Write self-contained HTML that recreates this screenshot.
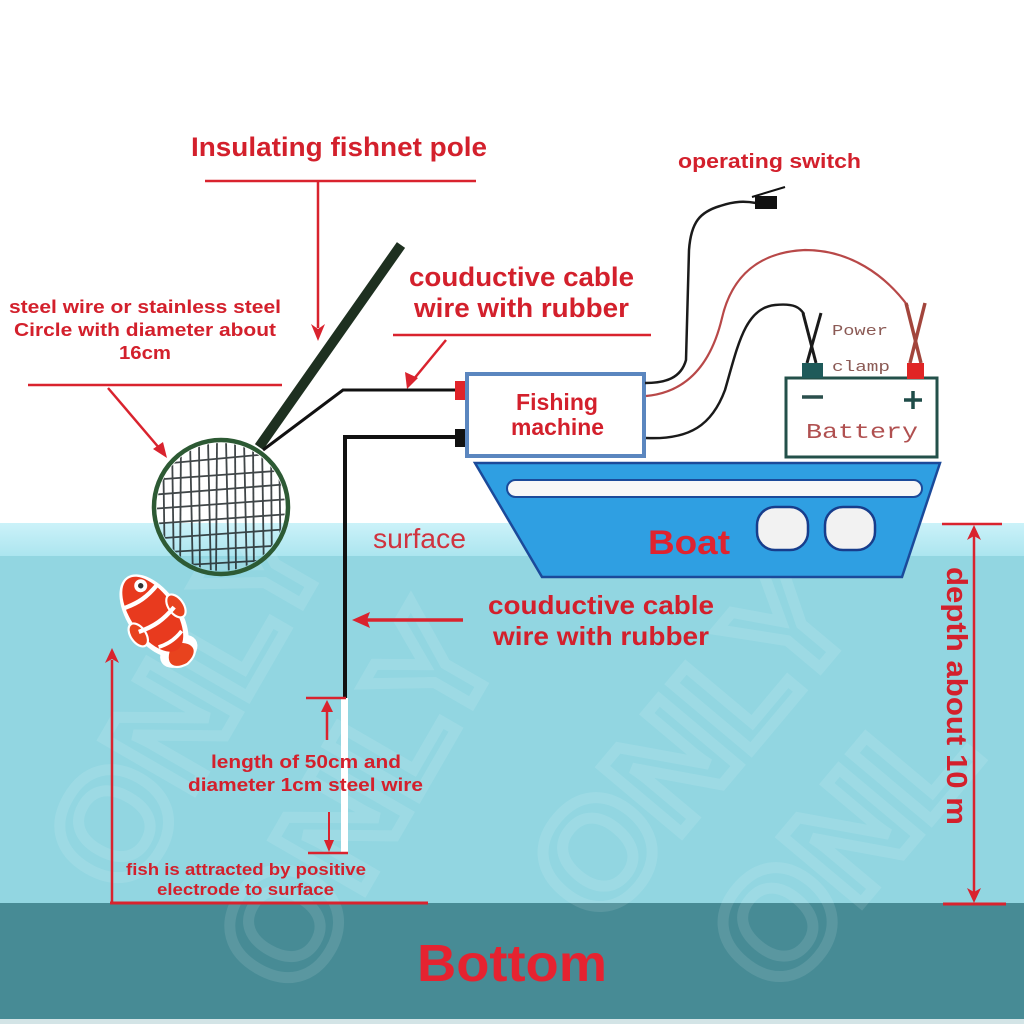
<!DOCTYPE html>
<html><head><meta charset="utf-8"><style>
html,body{margin:0;padding:0;background:#fff;width:1024px;height:1024px;overflow:hidden;}
svg{display:block;position:absolute;left:0;top:0;}
.b{font-family:"Liberation Sans",Arial,sans-serif;font-weight:bold;fill:#d3202c;}
</style></head><body>
<svg width="1024" height="1024" viewBox="0 0 1024 1024" xmlns="http://www.w3.org/2000/svg">
<defs>
<linearGradient id="surf" x1="0" y1="0" x2="0" y2="1">
<stop offset="0" stop-color="#cbf2f9"/><stop offset="1" stop-color="#ace5ef"/>
</linearGradient>
<clipPath id="netclip"><circle cx="221" cy="507" r="64"/></clipPath>
</defs>
<rect width="1024" height="1024" fill="#fff"/>
<!-- water -->
<rect x="0" y="523" width="1024" height="33" fill="url(#surf)"/>
<rect x="0" y="556" width="1024" height="347" fill="#92d6e1"/>
<rect x="0" y="903" width="1024" height="116" fill="#478b95"/>
<rect x="0" y="1019" width="1024" height="5" fill="#d3e4e6"/>
<!-- watermark -->
<g font-family="Liberation Sans,sans-serif" font-weight="bold" font-size="150" fill="none" stroke="#ffffff" stroke-width="11" opacity="0.1">
<text transform="translate(300,1000) rotate(-60)">ONLY</text>
<text transform="translate(600,930) rotate(-50)">ONLY</text>
<text transform="translate(130,900) rotate(-60)">ONLY</text>
<text transform="translate(780,1000) rotate(-50)">ONL</text>
</g>

<!-- Insulating fishnet pole label -->
<text class="b" x="191" y="156" font-size="27" textLength="296" lengthAdjust="spacingAndGlyphs">Insulating fishnet pole</text>
<line x1="205" y1="181" x2="476" y2="181" stroke="#d9232e" stroke-width="2.5"/>
<line x1="318" y1="181" x2="318" y2="328" stroke="#d9232e" stroke-width="2.5"/>
<path d="M311,324 L318,341 L325,324 L318,329 Z" fill="#d9232e"/>

<!-- operating switch -->
<text class="b" x="678" y="168" font-size="20" textLength="183" lengthAdjust="spacingAndGlyphs">operating switch</text>

<!-- couductive cable 1 -->
<text class="b" x="409" y="286" font-size="27" textLength="225" lengthAdjust="spacingAndGlyphs">couductive cable</text>
<text class="b" x="414" y="317" font-size="27" textLength="215" lengthAdjust="spacingAndGlyphs">wire with rubber</text>
<line x1="393" y1="335" x2="651" y2="335" stroke="#d9232e" stroke-width="2.5"/>
<line x1="446" y1="340" x2="413" y2="380" stroke="#d9232e" stroke-width="2.5"/>
<path d="M405,372 L407,389 L418,378 Z" fill="#d9232e"/>

<!-- steel wire label -->
<text class="b" x="9" y="313" font-size="18" textLength="272" lengthAdjust="spacingAndGlyphs">steel wire or stainless steel</text>
<text class="b" x="14" y="336" font-size="18" textLength="262" lengthAdjust="spacingAndGlyphs">Circle with diameter about</text>
<text class="b" x="119" y="359" font-size="18" textLength="52" lengthAdjust="spacingAndGlyphs">16cm</text>
<line x1="28" y1="385" x2="282" y2="385" stroke="#d9232e" stroke-width="2.5"/>
<line x1="108" y1="388" x2="160" y2="449" stroke="#d9232e" stroke-width="2.5"/>
<path d="M153,449 L167,458 L163,442 Z" fill="#d9232e"/>

<!-- pole -->
<line x1="401" y1="245" x2="259" y2="447" stroke="#1e3020" stroke-width="10"/>
<!-- net -->
<g clip-path="url(#netclip)" stroke="#1f2628" stroke-width="1.8" opacity="0.85">
<line x1="163" y1="440" x2="165" y2="580"/><line x1="172" y1="440" x2="174" y2="580"/>
<line x1="181" y1="440" x2="180" y2="580"/><line x1="190" y1="440" x2="193" y2="580"/>
<line x1="199" y1="440" x2="200" y2="580"/><line x1="208" y1="440" x2="211" y2="580"/>
<line x1="217" y1="440" x2="216" y2="580"/><line x1="226" y1="440" x2="229" y2="580"/>
<line x1="235" y1="440" x2="236" y2="580"/><line x1="244" y1="440" x2="247" y2="580"/>
<line x1="253" y1="440" x2="254" y2="580"/><line x1="262" y1="440" x2="264" y2="580"/>
<line x1="271" y1="440" x2="272" y2="580"/><line x1="279" y1="440" x2="281" y2="580"/>
<line x1="150" y1="465" x2="290" y2="452"/><line x1="150" y1="480" x2="290" y2="470"/>
<line x1="150" y1="495" x2="290" y2="484"/><line x1="150" y1="509" x2="290" y2="499"/>
<line x1="150" y1="524" x2="290" y2="514"/><line x1="150" y1="539" x2="290" y2="529"/>
<line x1="150" y1="553" x2="290" y2="545"/><line x1="150" y1="567" x2="290" y2="559"/>
</g>
<circle cx="221" cy="507" r="67" fill="none" stroke="#2d5a34" stroke-width="4.5"/>

<!-- wires to machine -->
<polyline points="263,450 343,390 457,390" fill="none" stroke="#111" stroke-width="3"/>
<polyline points="457,437 345,437 345,698" fill="none" stroke="#111" stroke-width="4"/>
<rect x="341" y="698" width="7" height="155" fill="#ffffff"/>
<rect x="455" y="381" width="15" height="19" fill="#e0242a"/>
<rect x="455" y="429" width="13" height="18" fill="#111"/>

<!-- fishing machine -->
<rect x="467" y="374" width="177" height="82" fill="#fff" stroke="#5b86bf" stroke-width="4"/>
<text class="b" x="516" y="410" font-size="23" textLength="82" lengthAdjust="spacingAndGlyphs">Fishing</text>
<text class="b" x="511" y="435" font-size="23" textLength="93" lengthAdjust="spacingAndGlyphs">machine</text>

<!-- wires to switch and battery -->
<path d="M645,383 C666,383 681,378 686,360 L689,250 C691,222 700,212 720,206 C735,201 745,201 756,203" fill="none" stroke="#1a1a1a" stroke-width="2.5"/>
<path d="M646,396 C690,392 712,360 722,318 C732,275 760,252 805,250 C850,250 885,275 908,306" fill="none" stroke="#b84848" stroke-width="2.2"/>
<path d="M646,438 C690,440 712,425 725,390 C738,345 745,308 775,305 C795,303 800,308 804,314" fill="none" stroke="#1a1a1a" stroke-width="2.5"/>
<rect x="755" y="196" width="22" height="13" fill="#111"/>
<line x1="752" y1="197" x2="785" y2="187" stroke="#111" stroke-width="2"/>

<!-- battery -->
<rect x="786" y="378" width="151" height="79" fill="#fff" stroke="#23504a" stroke-width="3"/>
<line x1="802" y1="397" x2="823" y2="397" stroke="#2a4f4c" stroke-width="3.5"/>
<line x1="904" y1="400" x2="922" y2="400" stroke="#1f4c48" stroke-width="3.5"/>
<line x1="913" y1="391" x2="913" y2="409" stroke="#1f4c48" stroke-width="3.5"/>
<text x="806" y="438" font-family="Liberation Mono,monospace" font-size="21" fill="#b05050" textLength="112" lengthAdjust="spacingAndGlyphs">Battery</text>
<text x="832" y="335" font-family="Liberation Mono,monospace" font-size="15" fill="#8b5a55" textLength="56" lengthAdjust="spacingAndGlyphs">Power</text>
<text x="832" y="371" font-family="Liberation Mono,monospace" font-size="15" fill="#8b5a55" textLength="58" lengthAdjust="spacingAndGlyphs">clamp</text>
<!-- clamps -->
<line x1="803" y1="313" x2="816" y2="363" stroke="#1a1a1a" stroke-width="3"/>
<line x1="821" y1="313" x2="807" y2="363" stroke="#1a1a1a" stroke-width="3"/>
<rect x="802" y="363" width="21" height="15" fill="#1e5a5a"/>
<line x1="906" y1="303" x2="921" y2="363" stroke="#a2453c" stroke-width="3.5"/>
<line x1="925" y1="303" x2="910" y2="363" stroke="#a2453c" stroke-width="3.5"/>
<rect x="907" y="363" width="17" height="16" fill="#e02525"/>

<!-- boat -->
<polygon points="475,463 940,463 902,577 542,577" fill="#2f9fe2" stroke="#1b4a9a" stroke-width="2.5"/>
<rect x="507" y="480" width="415" height="17" rx="8.5" fill="#f7f7f7" stroke="#1b4a9a" stroke-width="2"/>
<rect x="757" y="507" width="51" height="43" rx="18" fill="#f2f2f2" stroke="#173d8c" stroke-width="2.5"/>
<rect x="825" y="507" width="50" height="43" rx="18" fill="#f2f2f2" stroke="#173d8c" stroke-width="2.5"/>
<text x="648" y="554" font-family="Liberation Sans,sans-serif" font-weight="bold" font-size="34" fill="#e0232f" textLength="82" lengthAdjust="spacingAndGlyphs">Boat</text>

<!-- surface -->
<text x="373" y="548" font-family="Liberation Sans,sans-serif" font-size="28" fill="#d0333f" textLength="93" lengthAdjust="spacingAndGlyphs">surface</text>

<!-- couductive cable 2 -->
<text class="b" x="488" y="614" font-size="26" textLength="226" lengthAdjust="spacingAndGlyphs">couductive cable</text>
<text class="b" x="493" y="645" font-size="26" textLength="216" lengthAdjust="spacingAndGlyphs">wire with rubber</text>
<line x1="463" y1="620" x2="366" y2="620" stroke="#d9232e" stroke-width="3.5"/>
<path d="M352,620 L370,612 L367,620 L370,628 Z" fill="#d9232e"/>

<!-- steel wire length markers -->
<line x1="306" y1="698" x2="346" y2="698" stroke="#d9232e" stroke-width="2.5"/>
<line x1="327" y1="740" x2="327" y2="710" stroke="#d9232e" stroke-width="2.5"/>
<path d="M321,712 L327,700 L333,712 Z" fill="#d9232e"/>
<line x1="308" y1="853" x2="348" y2="853" stroke="#d9232e" stroke-width="2.5"/>
<line x1="329" y1="812" x2="329" y2="842" stroke="#d9232e" stroke-width="2"/>
<path d="M324,840 L329,852 L334,840 Z" fill="#d9232e"/>
<text class="b" x="211" y="768" font-size="18" textLength="190" lengthAdjust="spacingAndGlyphs">length of 50cm and</text>
<text class="b" x="188" y="791" font-size="18" textLength="235" lengthAdjust="spacingAndGlyphs">diameter 1cm steel wire</text>

<!-- fish attracted arrow -->
<line x1="112" y1="903" x2="112" y2="660" stroke="#d9232e" stroke-width="2.5"/>
<path d="M105,663 L112,648 L119,663 L112,659 Z" fill="#d9232e"/>
<line x1="110" y1="903" x2="428" y2="903" stroke="#d9232e" stroke-width="3"/>
<text class="b" x="126" y="875" font-size="17" textLength="240" lengthAdjust="spacingAndGlyphs">fish is attracted by positive</text>
<text class="b" x="157" y="895" font-size="17" textLength="177" lengthAdjust="spacingAndGlyphs">electrode to surface</text>

<!-- depth -->
<line x1="942" y1="524" x2="1002" y2="524" stroke="#d9232e" stroke-width="2.5"/>
<line x1="974" y1="530" x2="974" y2="897" stroke="#d9232e" stroke-width="2.5"/>
<path d="M967,540 L974,525 L981,540 L974,536 Z" fill="#d9232e"/>
<path d="M967,888 L974,903 L981,888 L974,892 Z" fill="#d9232e"/>
<line x1="943" y1="904" x2="1006" y2="904" stroke="#d9232e" stroke-width="3"/>
<text class="b" transform="translate(947,567) rotate(90)" x="0" y="0" font-size="29" textLength="258" lengthAdjust="spacingAndGlyphs">depth about 10 m</text>

<!-- Bottom -->
<text x="417" y="981" font-family="Liberation Sans,sans-serif" font-weight="bold" font-size="52" fill="#e52330" textLength="190" lengthAdjust="spacingAndGlyphs">Bottom</text>

<!-- fish -->
<g transform="translate(154,616) rotate(55) scale(1.08)">
<ellipse cx="0" cy="0" rx="44" ry="24" fill="#fff"/>
<ellipse cx="40" cy="0" rx="13" ry="19" fill="#fff"/>
<path d="M30,0 C38,-18 52,-18 54,0 C52,18 38,18 30,0 Z" fill="#e8431e" stroke="#fff" stroke-width="2"/>
<ellipse cx="-2" cy="0" rx="40" ry="20" fill="#e83a1e"/>
<ellipse cx="4" cy="-22" rx="12" ry="7" fill="#e8431e" stroke="#fff" stroke-width="2"/>
<ellipse cx="6" cy="22" rx="12" ry="7" fill="#e8431e" stroke="#fff" stroke-width="2"/>
<path d="M-22,-19 C-18,-5 -18,5 -22,19" fill="none" stroke="#fff" stroke-width="4"/>
<path d="M4,-20 C8,-5 8,5 4,20" fill="none" stroke="#fff" stroke-width="4"/>
<path d="M26,-13 C29,-4 29,4 26,13" fill="none" stroke="#fff" stroke-width="3.5"/>
<circle cx="-30" cy="-6" r="6" fill="#fff"/>
<circle cx="-30" cy="-6" r="2.5" fill="#333"/>
</g>
</svg>
</body></html>
